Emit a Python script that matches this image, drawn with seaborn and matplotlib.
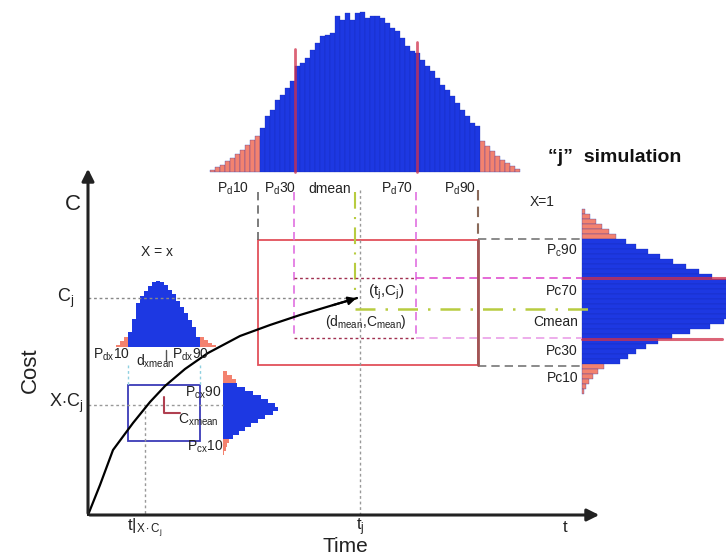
import numpy as np
import matplotlib.pyplot as plt
import seaborn as sns

sns.set_theme(style="white")
plt.rcParams['font.family'] = ['Liberation Sans', 'DejaVu Sans']
plt.rcParams['mathtext.fontset'] = 'custom'
plt.rcParams['mathtext.rm'] = 'Liberation Sans'
plt.rcParams['mathtext.it'] = 'Liberation Sans:italic'

# "j" simulation: duration histogram (counts per bin), tails = below Pd10 / above Pd90
dur_counts = [2, 5, 7, 11, 14, 18, 22, 27, 32, 36,
              44, 56, 62, 72, 77, 84, 91, 106, 109, 114,
              122, 129, 136, 137, 139, 156, 152, 159, 152, 159,
              160, 154, 156, 156, 154, 149, 144, 141, 134, 126,
              121, 119, 112, 106, 101, 94, 87, 82, 76, 69,
              62, 56, 49, 46,
              31, 26, 21, 16, 12, 9, 6, 3]
dur_tail = (10, 54)

# "j" simulation: cost histogram (counts per bin, top = high cost)
cost_counts = [3, 8, 14, 20, 27, 34,
               44, 54, 66, 78, 91, 104, 117, 130, 144, 152, 160, 165, 168,
               166, 160, 152, 142, 128, 108, 90, 76, 64, 54, 46, 38,
               22, 16, 11, 7, 4, 2]
cost_tail = (6, 31)

# X = x : duration and cost histograms
dx_counts = [2, 6, 10,
             15, 28, 44, 51, 56, 61, 65, 66, 65, 62, 57, 53, 46, 40, 34, 27, 20, 10,
             10, 7, 4, 2]
dx_tail = (3, 21)
cx_counts = [4, 9, 13,
             14, 22, 30, 38, 45, 52, 55, 50, 42, 35, 28, 22, 16, 10,
             6, 4, 3, 1]
cx_tail = (3, 17)

# cumulative cost curve C(t)
curve_t = [88, 100, 113, 133, 150, 165, 185, 208, 240, 270, 300, 330, 357]
curve_c = [515, 485, 450, 423, 402, 386, 369, 353, 336, 325, 315, 306, 298]

BLUE = "#1d38e2"
SALMON = "#f3826f"


def tail_colors(n, tail):
    return [BLUE if tail[0] <= i < tail[1] else SALMON for i in range(n)]


fig = plt.figure(figsize=(7.26, 5.55), dpi=100)
ax = fig.add_axes([0, 0, 1, 1])
ax.set_xlim(0, 726)
ax.set_ylim(555, 0)
ax.axis('off')

# ---- histograms
x = 210 + 5 * np.arange(len(dur_counts))
ax.bar(x, -np.array(dur_counts), bottom=172, width=5, align='edge',
       color=tail_colors(len(dur_counts), dur_tail), edgecolor='#1528b0', linewidth=0.2)
y = 209 + 5 * np.arange(len(cost_counts))
ax.barh(y, cost_counts, left=582, height=5, align='edge',
        color=tail_colors(len(cost_counts), cost_tail), edgecolor='#1528b0', linewidth=0.2)
x = 116 + 4 * np.arange(len(dx_counts))
ax.bar(x, -np.array(dx_counts), bottom=347, width=4, align='edge',
       color=tail_colors(len(dx_counts), dx_tail), linewidth=0)
y = 371 + 4 * np.arange(len(cx_counts))
ax.barh(y, cx_counts, left=223, height=4, align='edge',
        color=tail_colors(len(cx_counts), cx_tail), linewidth=0)

# percentile marks on the histograms
ax.plot([295, 295], [172, 49], color='#d0304a', lw=2, alpha=0.75)
ax.plot([417, 417], [172, 42], color='#d0304a', lw=2, alpha=0.75)
ax.plot([582, 726], [278, 278], color='#d0304a', lw=2.2, alpha=0.75)
ax.plot([582, 722], [339, 339], color='#d0304a', lw=2.2, alpha=0.75)

# ---- guide lines
dot = (0, (2, 2))
dash = (0, (5, 3))
ax.plot([360, 360], [190, 515], color='#999999', lw=1, ls=dot)
ax.plot([145, 145], [405, 515], color='#999999', lw=1, ls=dot)
ax.plot([88, 357], [298, 298], color='#888888', lw=1, ls=dot)
ax.plot([88, 223], [405, 405], color='#999999', lw=1, ls=dot)
ax.plot([128, 128], [365, 385], color='#8fd0e0', lw=1, ls=dot)
ax.plot([200, 200], [365, 385], color='#8fd0e0', lw=1, ls=dot)

ax.plot([258, 258], [192, 240], color='#666666', lw=1.2, ls=dash)
ax.plot([294, 294], [192, 338], color='#e070e0', lw=1.2, ls=dash)
ax.plot([355, 355], [192, 300], color='#b8cc40', lw=1.5, ls=(0, (8, 4, 1, 4)))
ax.plot([416, 416], [192, 338], color='#e070e0', lw=1.2, ls=dash)
ax.plot([478, 478], [190, 240], color='#8a6a5a', lw=1.5, ls=dash)

ax.plot([478, 582], [239, 239], color='#777777', lw=1.2, ls=dash)
ax.plot([294, 416], [278, 278], color='#a03050', lw=1, ls=dot)
ax.plot([416, 582], [278, 278], color='#e050d0', lw=1.2, ls=dash)
ax.plot([355, 597], [309, 309], color='#b8cc40', lw=1.8, ls=(0, (8, 4, 1, 4)))
ax.plot([294, 416], [338, 338], color='#a03050', lw=1, ls=dot)
ax.plot([416, 582], [338, 338], color='#eaa0e8', lw=1.2, ls=dash)
ax.plot([478, 582], [366, 366], color='#777777', lw=1.2, ls=dash)

# boxes
ax.add_patch(plt.Rectangle((258, 240), 220, 125, fill=False, ec='#e2505a', lw=1.3))
ax.plot([478, 478], [240, 365], color='#a05555', lw=2)
ax.add_patch(plt.Rectangle((128, 385), 72, 56, fill=False, ec='#3a3ab8', lw=1.3))
ax.plot([164, 164, 180], [397, 413, 413], color='#b04050', lw=1.5)
ax.plot([166, 166], [350, 361], color='#555555', lw=1)

# ---- axes arrows
ax.annotate('', xy=(88, 166), xytext=(88, 516),
            arrowprops=dict(arrowstyle='-|>', color='#222222', lw=2.2, mutation_scale=18))
ax.annotate('', xy=(602, 515), xytext=(87, 515),
            arrowprops=dict(arrowstyle='-|>', color='#222222', lw=2.2, mutation_scale=18))

# cost curve
sns.lineplot(x=curve_t, y=curve_c, ax=ax, color='black', lw=1.6, sort=False)
ax.annotate('', xy=(curve_t[-1] + 2, curve_c[-1] - 0.5), xytext=(curve_t[-2], curve_c[-2]),
            arrowprops=dict(arrowstyle='-|>', color='black', lw=1.5, mutation_scale=12))

# ---- text
small = dict(fontsize=10, color='#222222', ha='center', va='center')
for label, px in [(r"P$_\mathrm{d}$10", 233), (r"P$_\mathrm{d}$30", 280), ("dmean", 330),
                  (r"P$_\mathrm{d}$70", 397), (r"P$_\mathrm{d}$90", 460)]:
    ax.text(px, 189, label, **small)
for label, py in [(r"P$_\mathrm{c}$90", 251), ("Pc70", 291), ("Cmean", 322),
                  ("Pc30", 351), ("Pc10", 378)]:
    ax.text(578, py, label, fontsize=10, color='#222222', ha='right', va='center')
ax.text(542, 202, "X=1", **small)
ax.text(548, 158, "\u201cj\u201d  simulation", fontsize=14, fontweight='bold',
        color='#111111', ha='left', va='center')
ax.text(368, 292, r"(t$_\mathrm{j}$,C$_\mathrm{j}$)", fontsize=11, color='#222222',
        ha='left', va='center')
ax.text(366, 322, r"(d$_\mathrm{mean}$,C$_\mathrm{mean}$)", **small)

ax.text(157, 252, "X = x", **small)
ax.text(111, 355, r"P$_\mathrm{dx}$10", **small)
ax.text(155, 361, r"d$_\mathrm{xmean}$", **small)
ax.text(190, 355, r"P$_\mathrm{dx}$90", **small)
ax.text(203, 393, r"P$_\mathrm{cx}$90", **small)
ax.text(198, 420, r"C$_\mathrm{xmean}$", **small)
ax.text(205, 447, r"P$_\mathrm{cx}$10", **small)

ax.text(73, 205, "C", fontsize=16, ha='center', va='center', color='#222222')
ax.text(66, 298, r"C$_\mathrm{j}$", fontsize=13, ha='center', va='center', color='#222222')
ax.text(83, 403, r"X$\cdot$C$_\mathrm{j}$", fontsize=13, ha='right', va='center', color='#222222')
ax.text(30, 370, "Cost", fontsize=16, rotation=90, ha='center', va='center', color='#222222')
ax.text(145, 528, r"t|$_\mathrm{X\cdot C_j}$", fontsize=12, ha='center', va='center', color='#222222')
ax.text(360, 527, r"t$_\mathrm{j}$", fontsize=12, ha='center', va='center', color='#222222')
ax.text(565, 527, "t", fontsize=12, ha='center', va='center', color='#222222')
ax.text(345, 546, "Time", fontsize=15, ha='center', va='center', color='#222222')

fig.savefig("out.png", dpi=100)
